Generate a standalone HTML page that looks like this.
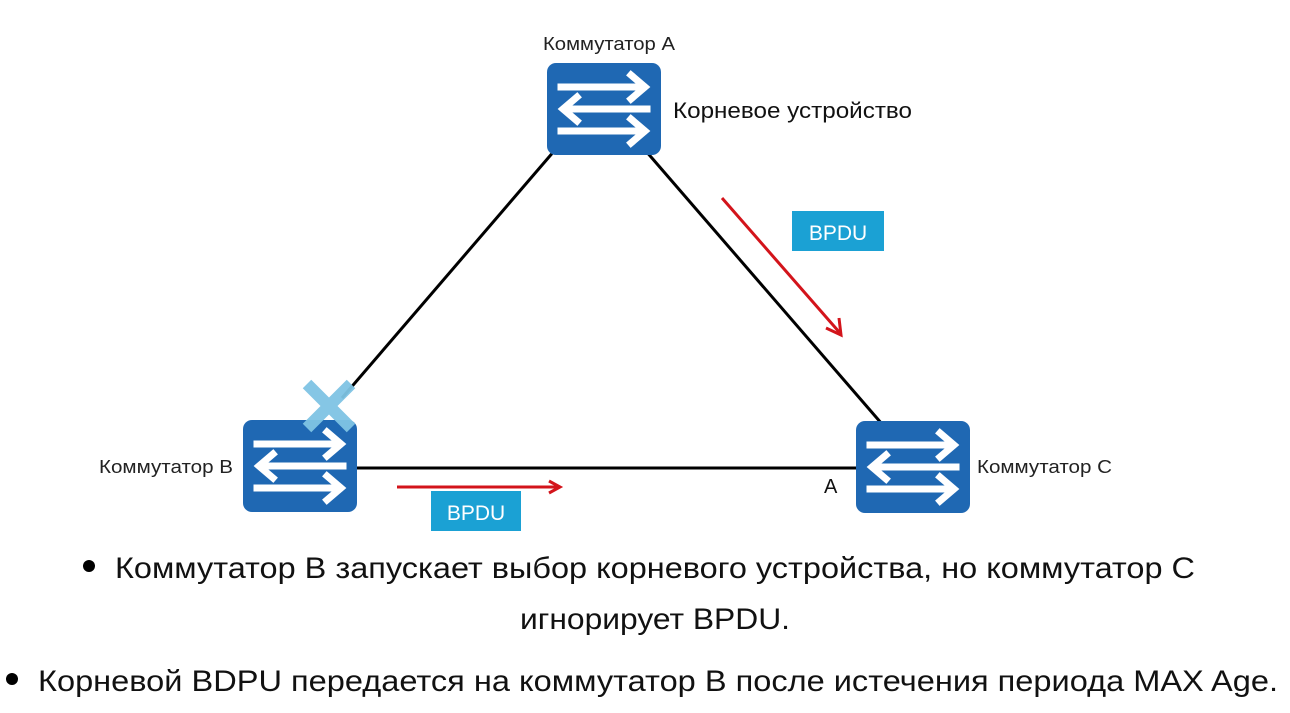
<!DOCTYPE html>
<html><head><meta charset="utf-8"><style>
html,body{margin:0;padding:0;background:#fff;}
svg{display:block;}
text{font-family:"Liberation Sans",Arial,sans-serif;}
</style></head><body>
<svg width="1290" height="713" viewBox="0 0 1290 713" xmlns="http://www.w3.org/2000/svg">
<defs>
<g id="sw">
<rect x="0" y="0" width="114" height="92" rx="9" fill="#1f68b3"/>
<g stroke="#fff" stroke-width="7" fill="none" stroke-linecap="square">
<line x1="14" y1="24" x2="96" y2="24"/><polyline points="84,12 98,24 84,36"/>
<line x1="18" y1="46" x2="100" y2="46"/><polyline points="30,34 16,46 30,58"/>
<line x1="14" y1="68" x2="96" y2="68"/><polyline points="84,56 98,68 84,80"/>
</g>
</g>
</defs>
<line x1="555" y1="150" x2="342" y2="398" stroke="#000" stroke-width="3"/>
<line x1="645" y1="150" x2="882" y2="424" stroke="#000" stroke-width="3"/>
<line x1="355" y1="468" x2="858" y2="468" stroke="#000" stroke-width="3"/>
<use href="#sw" x="547" y="63"/>
<use href="#sw" x="243" y="420"/>
<use href="#sw" x="856" y="421"/>
<g stroke="#7fc4e4" stroke-width="12" opacity="0.95">
<line x1="307" y1="384" x2="351" y2="428"/><line x1="351" y1="384" x2="307" y2="428"/>
</g>
<g stroke="#d3141b" stroke-width="3" fill="none">
<line x1="722" y1="198" x2="840" y2="333"/><polyline points="826,328 841,335 839,318"/>
<line x1="397" y1="487" x2="559" y2="487"/><polyline points="549,481 560,487 549,493"/>
</g>
<rect x="792" y="211" width="92" height="40" fill="#1ba1d4"/>
<text x="838" y="240" font-size="21" fill="#fff" text-anchor="middle">BPDU</text>
<rect x="431" y="491" width="90" height="40" fill="#1ba1d4"/>
<text x="476" y="520" font-size="21" fill="#fff" text-anchor="middle">BPDU</text>
<text x="543" y="50" font-size="18" fill="#222" textLength="132" lengthAdjust="spacingAndGlyphs">Коммутатор A</text>
<text x="673" y="118" font-size="22" fill="#111" textLength="239" lengthAdjust="spacingAndGlyphs">Корневое устройство</text>
<text x="99" y="473" font-size="18" fill="#222" textLength="134" lengthAdjust="spacingAndGlyphs">Коммутатор B</text>
<text x="977" y="473" font-size="18" fill="#222" textLength="135" lengthAdjust="spacingAndGlyphs">Коммутатор C</text>
<text x="824" y="493" font-size="20" fill="#111">A</text>
<circle cx="89" cy="566" r="6" fill="#000"/>
<text x="115" y="578" font-size="30" fill="#111" textLength="1080" lengthAdjust="spacingAndGlyphs">Коммутатор  B запускает выбор корневого  устройства, но коммутатор  C</text>
<text x="520" y="629" font-size="30" fill="#111" textLength="270" lengthAdjust="spacingAndGlyphs">игнорирует BPDU.</text>
<circle cx="12" cy="679" r="6" fill="#000"/>
<text x="38" y="691" font-size="30" fill="#111" textLength="1240" lengthAdjust="spacingAndGlyphs">Корневой BDPU передается на коммутатор  B после истечения периода MAX Age.</text>
</svg>
</body></html>
